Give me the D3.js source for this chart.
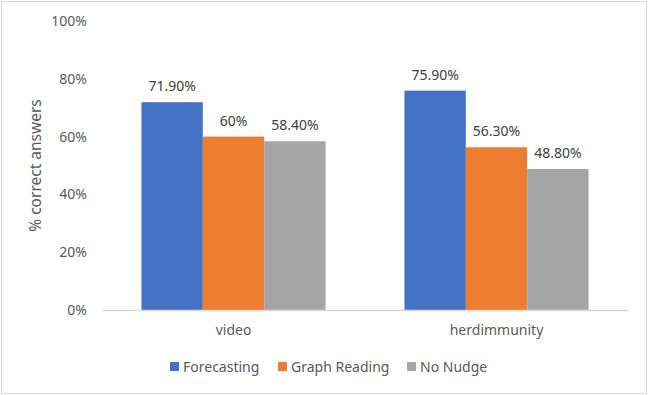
<!DOCTYPE html>
<html>
<head>
<meta charset="utf-8">
<script src="https://cdn.jsdelivr.net/npm/d3@7"></script>
<style>
  html, body { margin: 0; padding: 0; background: #fff; }
  svg text { font-family: "Noto Sans", "Open Sans", sans-serif; fill: #595959; }
</style>
</head>
<body>
<svg id="chart" width="648" height="395"></svg>
<script>
'use strict';

// data
const categories = [ 'video', 'herdimmunity' ];
const seriesNames = [ 'Forecasting', 'Graph Reading', 'No Nudge' ];
const forecasting = [ 71.9, 75.9 ];
const graphReading = [ 60, 56.3 ];
const noNudge = [ 58.4, 48.8 ];
const valueLabels = [
  [ '71.90%', '75.90%' ],
  [ '60%', '56.30%' ],
  [ '58.40%', '48.80%' ]
];
const yTicks = [ 0, 20, 40, 60, 80, 100 ];

const series = [ forecasting, graphReading, noNudge ];
const colors = [ '#4472c4', '#ed7d31', '#a5a5a5' ];

const width = 648, height = 395;
const plot = { left: 102, right: 628, top: 21, bottom: 310 };
const fontSize = '14px';

const svg = d3.select( '#chart' );

// outer border
svg.append( 'rect' )
    .attr( 'x', 1.5 ).attr( 'y', 1.5 )
    .attr( 'width', width - 3 ).attr( 'height', height - 3 )
    .attr( 'fill', '#fff' )
    .attr( 'stroke', '#d9d9d9' )
    .attr( 'stroke-width', 1 );

// scales
const x0 = d3.scaleBand()
             .domain( categories )
             .range( [ plot.left, plot.right ] )
             .paddingInner( 0.3 )
             .paddingOuter( 0.15 );
const x1 = d3.scaleBand()
             .domain( d3.range( series.length ) )
             .range( [ 0, x0.bandwidth() ] );
const y = d3.scaleLinear()
            .domain( [ 0, 100 ] )
            .range( [ plot.bottom, plot.top ] );
const color = d3.scaleOrdinal().domain( seriesNames ).range( colors );

// y-axis labels
const yAxis = d3.axisLeft( y )
                .tickValues( yTicks )
                .tickFormat( (d) => d + '%' )
                .tickSize( 0 )
                .tickPadding( 15 );
const yg = svg.append( 'g' )
              .attr( 'transform', `translate(${plot.left},0)` )
              .call( yAxis );
yg.select( '.domain' ).remove();
yg.selectAll( 'text' )
    .style( 'font-size', fontSize )
    .style( 'font-family', null )
    .attr( 'fill', '#595959' );
yg.attr( 'font-family', null ).attr( 'font-size', null );

// y title
svg.append( 'text' )
    .attr( 'transform', `translate(36,${(plot.top + plot.bottom) / 2}) rotate(-90)` )
    .attr( 'text-anchor', 'middle' )
    .attr( 'dy', '0.35em' )
    .style( 'font-size', '15.5px' )
    .text( '% correct answers' );

// bars
const groups = svg.append( 'g' )
  .selectAll( 'g' )
  .data( categories )
  .enter().append( 'g' )
    .attr( 'transform', (d) => `translate(${x0( d )},0)` );

groups.selectAll( 'rect' )
    .data( (d, ci) => series.map( (s, si) => ({ si, v: s[ ci ] }) ) )
  .enter().append( 'rect' )
    .attr( 'x', (d) => x1( d.si ) )
    .attr( 'y', (d) => y( d.v ) )
    .attr( 'width', x1.bandwidth() )
    .attr( 'height', (d) => y( 0 ) - y( d.v ) )
    .attr( 'fill', (d) => colors[ d.si ] );

groups.selectAll( 'text' )
    .data( (d, ci) => series.map( (s, si) => ({ si, v: s[ ci ], label: valueLabels[ si ][ ci ] }) ) )
  .enter().append( 'text' )
    .attr( 'x', (d) => x1( d.si ) + x1.bandwidth() / 2 )
    .attr( 'y', (d) => y( d.v ) - 11 )
    .attr( 'text-anchor', 'middle' )
    .style( 'font-size', fontSize )
    .style( 'fill', '#404040' )
    .text( (d) => d.label );

// x-axis
const xAxis = d3.axisBottom( x0 ).tickSize( 0 ).tickPadding( 15 );
const xg = svg.append( 'g' )
              .attr( 'transform', `translate(0,${plot.bottom})` )
              .call( xAxis );
xg.attr( 'font-family', null ).attr( 'font-size', null );
xg.select( '.domain' )
    .attr( 'stroke', '#d9d9d9' )
    .attr( 'stroke-width', 1.3 );
xg.selectAll( 'text' )
    .style( 'font-size', fontSize )
    .attr( 'fill', '#595959' );

// legend
const legendX = [ 170, 278, 407 ];
const legend = svg.append( 'g' )
  .selectAll( 'g' )
  .data( seriesNames )
  .enter().append( 'g' )
    .attr( 'transform', (d, i) => `translate(${legendX[ i ]},362)` );
legend.append( 'rect' )
    .attr( 'width', 9 ).attr( 'height', 9 )
    .attr( 'fill', (d) => color( d ) );
legend.append( 'text' )
    .attr( 'x', 13 )
    .attr( 'y', 9.5 )
    .style( 'font-size', fontSize )
    .text( (d) => d );
</script>
</body>
</html>
